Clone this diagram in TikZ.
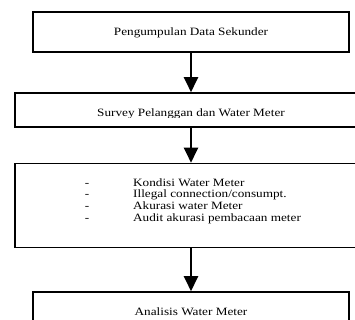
\documentclass[tikz,border=0pt]{standalone}
\usepackage{fontspec}
\setmainfont{Liberation Serif}
\usepackage{tikz}
\usetikzlibrary{arrows.meta, positioning}

\newcommand\flowtext[1]{\scalebox{1.18}[1]{#1}}

\begin{document}
\begin{tikzpicture}[
        x=1pt, y=-1pt,
        box/.style={draw, line width=1.6pt, rectangle, inner sep=0pt},
        txt/.style={inner sep=0pt, anchor=base, font=\fontsize{11.2}{12}\selectfont},
        arr/.style={-{Triangle[length=15pt,width=14pt]}, line width=2.4pt},
      ]
      \useasboundingbox (0,0) rectangle (355,320);
      % boxes of the flow
      \node[box, minimum width=316pt, minimum height=40pt] (b1) at (191,32) {};
      \node[box, minimum width=365pt, minimum height=34pt] (b2) at (197.5,110) {};
      \node[box, minimum width=365pt, minimum height=84pt] (b3) at (197.5,205.5) {};
      \node[box, minimum width=316pt, minimum height=48pt] (b4) at (191,316) {};
      % texts
      \node[txt] (t1) at (191,36) {\flowtext{Pengumpulan Data Sekunder}};
      \begin{scope}
        \clip (0,0) rectangle (355,117.3);
        \node[txt] (t2) at (191,117) {\flowtext{Survey Pelanggan dan Water Meter}};
      \end{scope}
      \foreach \t [count=\i] in {Kondisi Water Meter, Illegal connection/consumpt., Akurasi water Meter, Audit akurasi pembacaan meter}{
        \node[txt] (d\i) at (87,174.3+11.7*\i) {\flowtext{-}};
        \node[txt, anchor=base west] (item\i) at (133,174.3+11.7*\i) {\flowtext{\t}};
      }
      \node[txt] (t4) at (191,315) {\flowtext{Analisis Water Meter}};
      % arrows
      \draw[arr] (b1.south) -- (b2.north -| b1.south);
      \draw[arr] (b2.south -| b1.south) -- (b3.north -| b1.south);
      \draw[arr] (b3.south -| b4.north) -- (b4.north);
    \end{tikzpicture}
\end{document}
